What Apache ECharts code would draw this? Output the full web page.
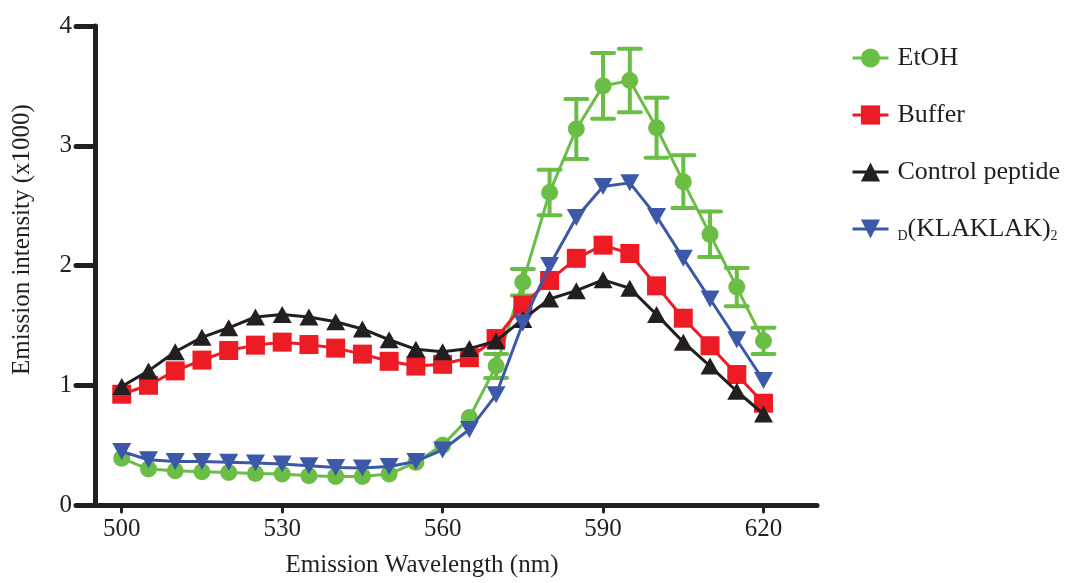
<!DOCTYPE html>
<html>
<head>
<meta charset="utf-8">
<script src="https://cdn.jsdelivr.net/npm/echarts@6/dist/echarts.min.js"></script>
<style>
html,body{margin:0;padding:0;background:#fff;}
#chart{width:1068px;height:583px;}
</style>
</head>
<body>
<div id="chart"></div>
<script>
// ---- data ----
const wavelengths = [500,505,510,515,520,525,530,535,540,545,550,555,560,565,570,575,580,585,590,595,600,605,610,615,620];
const xTicks = [500,530,560,590,620];
const yTicks = [0,1,2,3,4];
const seriesNames = ['EtOH','Buffer','Control peptide','D(KLAKLAK)2'];
const etoh = [0.39,0.30,0.286,0.278,0.272,0.264,0.258,0.244,0.239,0.239,0.258,0.356,0.50,0.73,1.16,1.86,2.61,3.14,3.50,3.545,3.15,2.70,2.26,1.82,1.37];
// error bars (SD); 0 = bar hidden behind marker
const etohErr = [0,0,0,0,0,0,0,0,0,0,0,0,0,0,0.10,0.11,0.19,0.25,0.275,0.265,0.25,0.22,0.19,0.16,0.11];
const buffer = [0.925,1.00,1.12,1.21,1.29,1.335,1.36,1.34,1.31,1.26,1.20,1.16,1.175,1.23,1.39,1.67,1.875,2.06,2.17,2.10,1.83,1.56,1.33,1.09,0.85];
const control = [0.99,1.12,1.28,1.40,1.48,1.57,1.59,1.57,1.53,1.47,1.38,1.30,1.28,1.306,1.37,1.55,1.72,1.79,1.88,1.81,1.59,1.36,1.16,0.95,0.76];
const klak = [0.447,0.378,0.364,0.364,0.358,0.35,0.342,0.328,0.314,0.308,0.322,0.364,0.46,0.63,0.92,1.52,2.00,2.40,2.66,2.69,2.41,2.06,1.72,1.38,1.04];

const FONT = "'Liberation Serif','Times New Roman',serif";
const INK = '#231f20';
const colors = ['#6abd45','#ed1c24','#231f20','#3c58a8'];

const pair = arr => wavelengths.map((w,i)=>[w,arr[i]]);
const errData = wavelengths.map((w,i)=>[w, etoh[i]-etohErr[i], etoh[i]+etohErr[i]]).filter((d,i)=>etohErr[i]>0);

const chart = echarts.init(document.getElementById('chart'));
chart.setOption({
  animation:false,
  backgroundColor:'#fff',
  grid:{left:95,right:251,top:26,bottom:77,containLabel:false},
  legend:{
    orient:'vertical', left:846, top:40, itemWidth:36, itemHeight:24, itemGap:31,
    data:seriesNames,
    lineStyle:{width:3},
    formatter: n => n==='D(KLAKLAK)2' ? '{sub|D}(KLAKLAK){sub|2}' : n,
    textStyle:{fontFamily:FONT,fontSize:26,color:INK,padding:[0,0,0,4],
      rich:{sub:{fontFamily:FONT,fontSize:14,color:INK,verticalAlign:'bottom',padding:[14,0,0,0]}}}
  },
  xAxis:{
    type:'value', min:495, max:630,
    name:'Emission Wavelength (nm)', nameLocation:'middle', nameGap:48,
    nameTextStyle:{fontFamily:FONT,fontSize:25,color:INK,padding:[0,68,0,0]},
    axisLine:{lineStyle:{color:INK,width:5}},
    axisTick:{show:true,length:7,customValues:xTicks,lineStyle:{color:INK,width:3,cap:'round'}},
    axisLabel:{customValues:xTicks,fontFamily:FONT,fontSize:25,color:INK,margin:12},
    splitLine:{show:false}
  },
  yAxis:{
    type:'value', min:0, max:4, interval:1,
    name:'Emission intensity (x1000)', nameLocation:'middle', nameGap:60,
    nameTextStyle:{fontFamily:FONT,fontSize:25,color:INK,padding:[0,0,0,52]},
    axisLine:{show:true,lineStyle:{color:INK,width:5}},
    axisTick:{show:true,length:19,lineStyle:{color:INK,width:5,cap:'round'}},
    axisLabel:{fontFamily:FONT,fontSize:25,color:INK,margin:23,
      formatter:v=>String(v)},
    splitLine:{show:false}
  },
  series:[
    {type:'custom', name:'EtOH-err', z:1, silent:true,
     data:errData, encode:{x:0,y:[1,2]},
     renderItem:(params,api)=>{
       const x=api.value(0), lo=api.value(1), hi=api.value(2);
       const a=api.coord([x,hi]), b=api.coord([x,lo]);
       const hw=11, st={stroke:colors[0],lineWidth:4,lineCap:'round'};
       return {type:'group',children:[
         {type:'line',shape:{x1:a[0],y1:a[1],x2:b[0],y2:b[1]},style:st},
         {type:'line',shape:{x1:a[0]-hw,y1:a[1],x2:a[0]+hw,y2:a[1]},style:st},
         {type:'line',shape:{x1:b[0]-hw,y1:b[1],x2:b[0]+hw,y2:b[1]},style:st}
       ]};
     }},
    {type:'line', name:seriesNames[0], data:pair(etoh), z:2, color:colors[0],
     symbol:'circle', symbolSize:17, lineStyle:{width:3,color:colors[0]}, itemStyle:{color:colors[0]}},
    {type:'line', name:seriesNames[1], data:pair(buffer), z:3, color:colors[1],
     symbol:'rect', symbolSize:19, lineStyle:{width:3,color:colors[1]}, itemStyle:{color:colors[1]}},
    {type:'line', name:seriesNames[2], data:pair(control), z:4, color:colors[2],
     symbol:'triangle', symbolSize:[19,17], lineStyle:{width:3,color:colors[2]}, itemStyle:{color:colors[2]}},
    {type:'line', name:seriesNames[3], data:pair(klak), z:5, color:colors[3],
     symbol:'triangle', symbolRotate:180, symbolSize:[19,17], lineStyle:{width:3,color:colors[3]}, itemStyle:{color:colors[3]}}
  ]
});
</script>
</body>
</html>
